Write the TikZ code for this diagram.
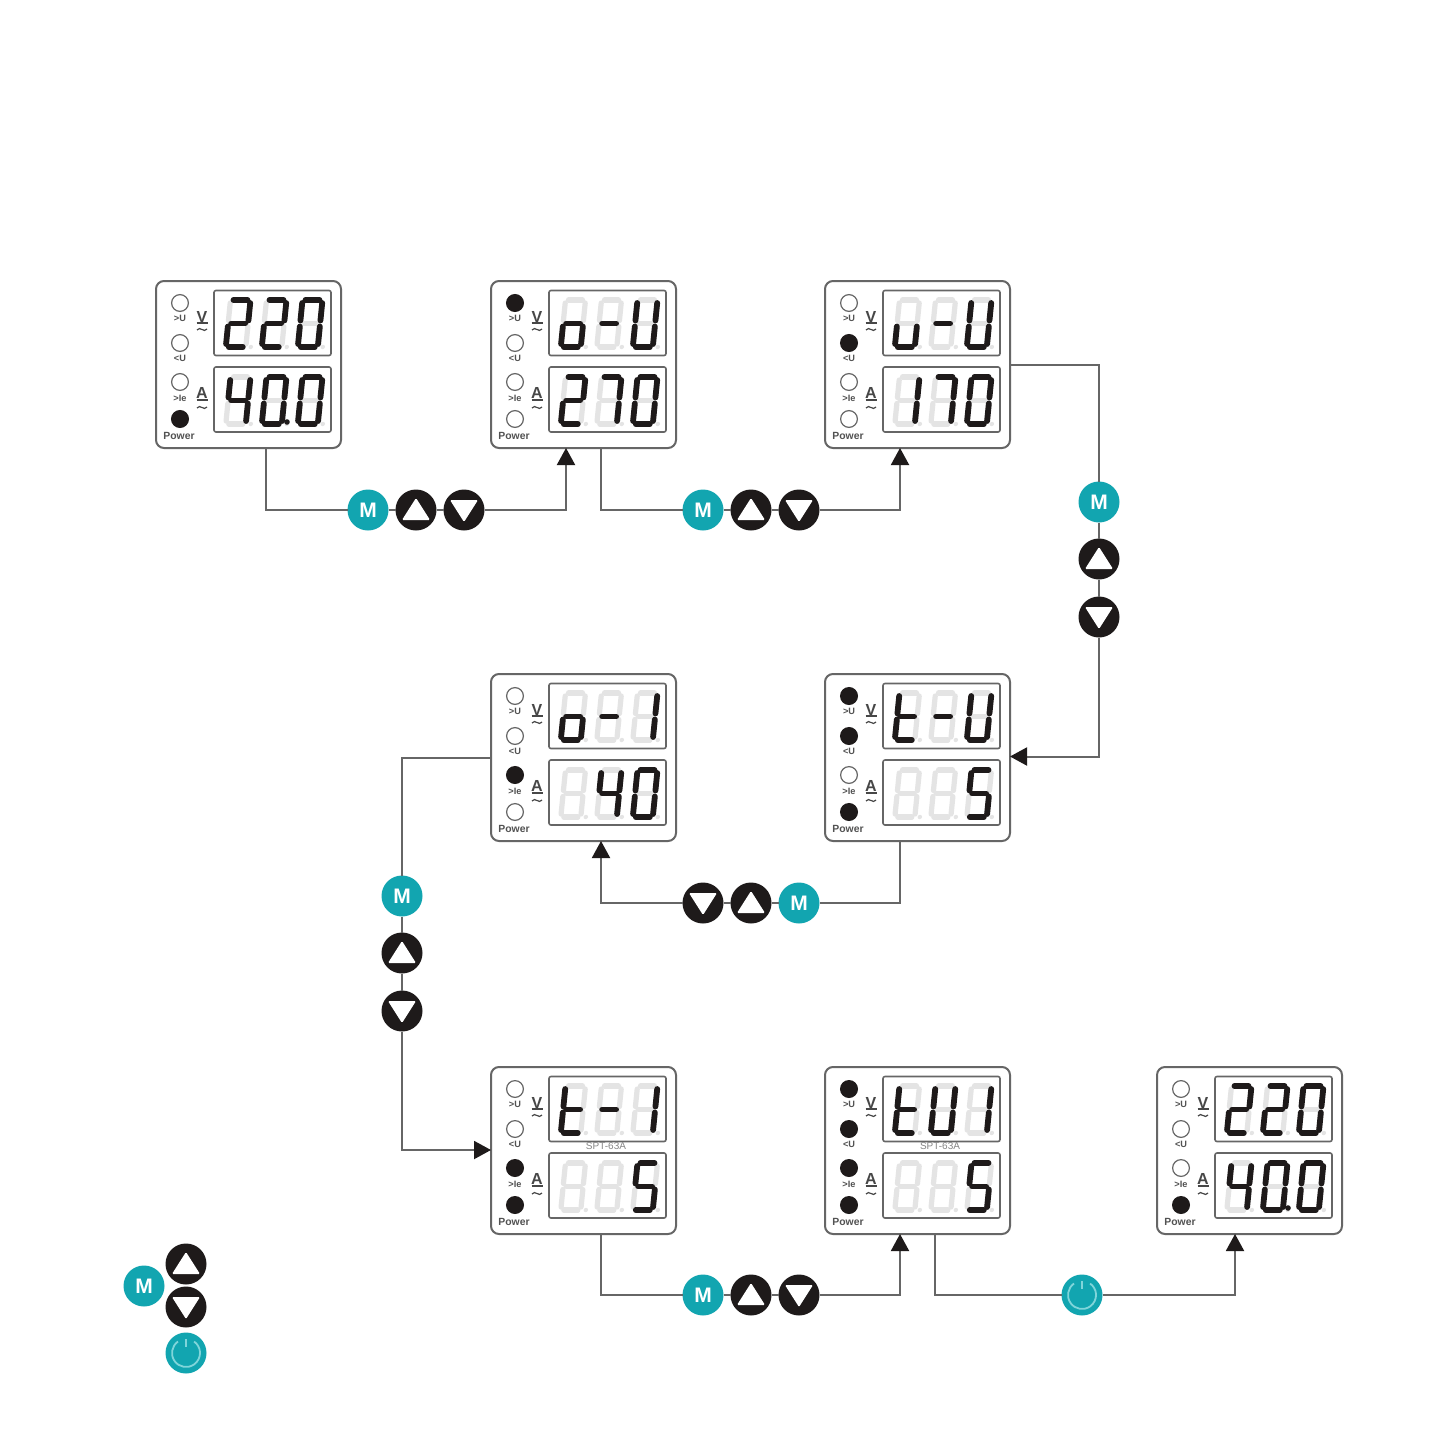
\documentclass[tikz,border=0pt]{standalone}
\usepackage{fontspec}
\setmainfont{Liberation Sans}
\usetikzlibrary{arrows.meta,calc}
\definecolor{tealb}{HTML}{12A5B0}
\definecolor{teall}{HTML}{80D5DA}
\definecolor{inkb}{HTML}{1E1A1A}
\definecolor{frameg}{HTML}{666666}
\definecolor{segdim}{HTML}{E4E4E4}
\tikzset{
  x=0.5pt,y=-0.5pt,
  wire/.style={draw=frameg,line width=1pt},
  arrowwire/.style={wire,-{Triangle[length=8.5pt,width=9pt,color=inkb]}},
  panelbox/.style={draw=frameg,line width=1pt,rounded corners=4pt,fill=white,minimum width=92.5pt,minimum height=83.5pt,anchor=north west,inner sep=0pt,outer sep=0pt},
  dispbox/.style={draw=frameg,line width=0.8pt,rounded corners=1pt,minimum width=58.5pt,minimum height=32.5pt,anchor=north west,inner sep=0pt,outer sep=0pt},
  lit/.style={draw=inkb,line width=2.9pt,line cap=round},
  dimseg/.style={draw=segdim,line width=2.6pt,line cap=round},
  ledo/.style={circle,draw=frameg,fill=white,line width=0.6pt,minimum size=8.4pt,inner sep=0pt},
  ledf/.style={circle,draw=inkb,fill=inkb,line width=0.6pt,minimum size=8.4pt,inner sep=0pt},
  tiny/.style={font=\fontsize{4.6}{5}\selectfont\bfseries,text=frameg!80!black,inner sep=0pt},
  unit/.style={font=\fontsize{8}{8}\selectfont\bfseries,text=frameg!70!black,inner sep=0pt},
  unitline/.style={draw=frameg!70!black,line width=0.6pt},
  btn/.style={circle,minimum size=20.5pt,inner sep=0pt,outer sep=0pt},
  mbtn/.style={btn,fill=tealb,text=white,font=\fontsize{10.5}{11}\selectfont\bfseries},
  upbtn/.style={btn,fill=inkb,path picture={\fill[white,rounded corners=0.6pt] ($(path picture bounding box.center)+(-14,10)$)--($(path picture bounding box.center)+(14,10)$)--($(path picture bounding box.center)+(0,-12)$)--cycle;}},
  downbtn/.style={btn,fill=inkb,path picture={\fill[white,rounded corners=0.6pt] ($(path picture bounding box.center)+(-14,-10)$)--($(path picture bounding box.center)+(14,-10)$)--($(path picture bounding box.center)+(0,12)$)--cycle;}},
  powbtn/.style={btn,fill=tealb,path picture={
    \draw[teall,line width=0.9pt] ($(path picture bounding box.center)+(-8,-11.5)$) arc[start angle=125,delta angle=290,radius=7pt];
    \draw[teall,line width=0.7pt] ($(path picture bounding box.center)+(0,-14)$)--($(path picture bounding box.center)+(0,-6)$);}},
}
% segments
\def\sega#1{\draw[#1] (3,0)--(17,0);}
\def\segb#1{\draw[#1] (20,3)--(20,20.5);}
\def\segc#1{\draw[#1] (20,26.5)--(20,44);}
\def\segd#1{\draw[#1] (3,47)--(17,47);}
\def\sege#1{\draw[#1] (0,26.5)--(0,44);}
\def\segf#1{\draw[#1] (0,3)--(0,20.5);}
\def\segg#1{\draw[#1] (3,23.5)--(17,23.5);}
\def\segz#1{}
\def\dNone{z}
\def\dZero{a,b,c,d,e,f}
\def\dOne{b,c}
\def\dTwo{a,b,g,e,d}
\def\dFour{f,g,b,c}
\def\dFive{a,f,g,c,d}
\def\dSeven{a,b,c}
\def\dO{c,d,e,g}
\def\dDash{g}
\def\dU{b,c,d,e,f}
\def\dV{c,d,e}
\def\dT{d,e,f,g}
\newcommand{\onedigit}[3]{% x, y, segments
  \begin{scope}[shift={(#1,#2)},xslant=0.1]
    \foreach \s in {a,b,c,d,e,f,g}{\csname seg\s\endcsname{dimseg}}
    \fill[segdim] (25,47) circle[radius=1.1pt];
    \foreach \s in #3{\csname seg\s\endcsname{lit}}
  \end{scope}}
\newcommand{\threedigits}[4]{\onedigit{74.5}{#1}{#2}\onedigit{110.5}{#1}{#3}\onedigit{146.5}{#1}{#4}}
\newcommand{\ledrow}[5]{%
  \node[led#2] (#1-l1) at (24,22) {};
  \node[led#3] (#1-l2) at (24,62) {};
  \node[led#4] (#1-l3) at (24,101) {};
  \node[led#5] (#1-l4) at (24,138) {};}
\newcommand{\panel}[7]{% name,x,y,leds,top,bottom,extra
  \begin{scope}[shift={(#2,#3)}]
    \node[panelbox] (#1) at (0,0) {};
    \node[dispbox] (#1-top) at (58,9.5) {};
    \node[dispbox] (#1-bot) at (58,86) {};
    \ledrow{#1}#4
    \node[tiny] (#1-t1) at (24,37) {>U};
    \node[tiny] (#1-t2) at (24,77) {<U};
    \node[tiny] (#1-t3) at (24,117) {>Ie};
    \node[tiny,font=\fontsize{5.2}{6}\selectfont\bfseries] (#1-t4) at (23,155) {Power};
    \node[unit] (#1-v) at (46,36) {V};
    \draw[unitline] (40.5,42)--(51.5,42);
    \draw[unitline] (41,49) .. controls (44,44.5) and (48,52.5) .. (51,48);
    \node[unit] (#1-a) at (46,112) {A};
    \draw[unitline] (40.5,119)--(51.5,119);
    \draw[unitline] (41,127) .. controls (44,122.5) and (48,130.5) .. (51,126);
    \threedigits{19}#5
    \threedigits{96}#6
    #7
    \coordinate (#1-bl) at (75,167);
    \coordinate (#1-br) at (110,167);
    \coordinate (#1-rout) at (185,84);
    \coordinate (#1-rin) at (185,82.5);
    \coordinate (#1-lin) at (0,83);
    \coordinate (#1-lout) at (0,84);
  \end{scope}}
\newcommand{\spt}[1]{\node[font=\fontsize{5}{6}\selectfont,text=frameg!80,inner sep=0pt] (#1-spt) at (115,79.5) {SPT-63A};}
\begin{document}
\begin{tikzpicture}
\useasboundingbox (0,0) rectangle (1445,1445);
\fill[white] (0,0) rectangle (1445,1445);
\panel{p1}{156}{281}{{o}{o}{o}{f}}{{\dTwo}{\dTwo}{\dZero}}{{\dFour}{\dZero}{\dZero}}{\fill[inkb] (131,141) circle[radius=1.4pt];}
\panel{p2}{491}{281}{{f}{o}{o}{o}}{{\dO}{\dDash}{\dU}}{{\dTwo}{\dSeven}{\dZero}}{}
\panel{p3}{825}{281}{{o}{f}{o}{o}}{{\dV}{\dDash}{\dU}}{{\dOne}{\dSeven}{\dZero}}{}
\panel{p4}{491}{674}{{o}{o}{f}{o}}{{\dO}{\dDash}{\dOne}}{{\dNone}{\dFour}{\dZero}}{}
\panel{p5}{825}{674}{{f}{f}{o}{f}}{{\dT}{\dDash}{\dU}}{{\dNone}{\dNone}{\dFive}}{}
\panel{p6}{491}{1067}{{o}{o}{f}{f}}{{\dT}{\dDash}{\dOne}}{{\dNone}{\dNone}{\dFive}}{\spt{p6}}
\panel{p7}{825}{1067}{{f}{f}{f}{f}}{{\dT}{\dU}{\dOne}}{{\dNone}{\dNone}{\dFive}}{\spt{p7}}
\panel{p8}{1157}{1067}{{o}{o}{o}{f}}{{\dTwo}{\dTwo}{\dZero}}{{\dFour}{\dZero}{\dZero}}{\fill[inkb] (131,141) circle[radius=1.4pt];}
% buttons
\node[mbtn] (m1) at (368,510) {M};
\node[upbtn] (u1) at (416,510) {};
\node[downbtn] (d1) at (464,510) {};
\node[mbtn] (m2) at (703,510) {M};
\node[upbtn] (u2) at (751,510) {};
\node[downbtn] (d2) at (799,510) {};
\node[mbtn] (m3) at (1099,502) {M};
\node[upbtn] (u3) at (1099,559) {};
\node[downbtn] (d3) at (1099,617) {};
\node[downbtn] (d4) at (703,903) {};
\node[upbtn] (u4) at (751,903) {};
\node[mbtn] (m4) at (799,903) {M};
\node[mbtn] (m5) at (402,896) {M};
\node[upbtn] (u5) at (402,953) {};
\node[downbtn] (d5) at (402,1011) {};
\node[mbtn] (m6) at (703,1295) {M};
\node[upbtn] (u6) at (751,1295) {};
\node[downbtn] (d6) at (799,1295) {};
\node[powbtn] (w7) at (1082,1295) {};
\node[mbtn] (lm) at (144,1286) {M};
\node[upbtn] (lu) at (186,1264) {};
\node[downbtn] (ld) at (186,1307) {};
\node[powbtn] (lw) at (186,1353) {};
% connectors
\draw[wire] (p1-br) |- (m1);
\draw[wire] (m1)--(u1);
\draw[wire] (u1)--(d1);
\draw[arrowwire] (d1) -| (p2-bl);
\draw[wire] (p2-br) |- (m2);
\draw[wire] (m2)--(u2);
\draw[wire] (u2)--(d2);
\draw[arrowwire] (d2) -| (p3-bl);
\draw[wire] (p3-rout) -| (m3);
\draw[wire] (m3)--(u3);
\draw[wire] (u3)--(d3);
\draw[arrowwire] (d3) |- (p5-rin);
\draw[wire] (p5-bl) |- (m4);
\draw[wire] (m4)--(u4);
\draw[wire] (u4)--(d4);
\draw[arrowwire] (d4) -| (p4-br);
\draw[wire] (p4-lout) -| (m5);
\draw[wire] (m5)--(u5);
\draw[wire] (u5)--(d5);
\draw[arrowwire] (d5) |- (p6-lin);
\draw[wire] (p6-br) |- (m6);
\draw[wire] (m6)--(u6);
\draw[wire] (u6)--(d6);
\draw[arrowwire] (d6) -| (p7-bl);
\draw[wire] (p7-br) |- (w7);
\draw[arrowwire] (w7) -| ($(p8-bl)+(3,0)$);
\end{tikzpicture}
\end{document}
